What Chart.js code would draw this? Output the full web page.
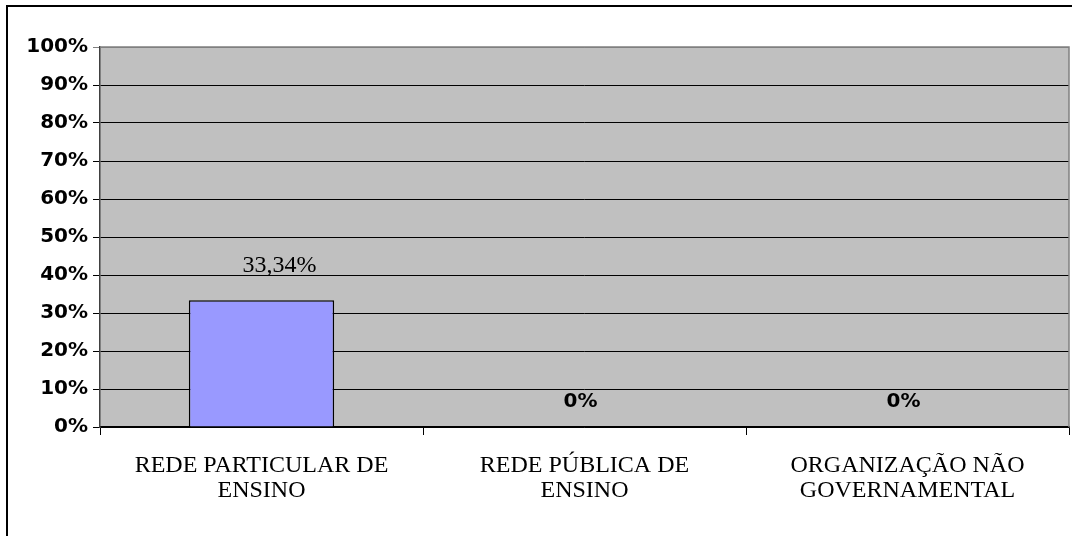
<!DOCTYPE html>
<html>
<head>
<meta charset="utf-8">
<script src="https://cdn.jsdelivr.net/npm/chart.js@4/dist/chart.umd.min.js"></script>
<style>
    html, body { margin: 0; padding: 0; background: #fff; overflow: hidden; }
    #frame { position: absolute; left: 6px; top: 5px; width: 1200px; height: 700px; border: 2px solid #000; }
    #wrap { position: absolute; left: 0; top: 0; width: 1072px; height: 536px; }
</style>
</head>
<body>
<div id="frame"></div>
<div id="wrap"><canvas id="chart"></canvas></div>
<script>
// data
const categories = [
    ["REDE PARTICULAR DE", "ENSINO"],
    ["REDE PÚBLICA DE", "ENSINO"],
    ["ORGANIZAÇÃO NÃO", "GOVERNAMENTAL"]
];
const values = [33.34, 0, 0];
const valueLabels = ["33,34%", "0%", "0%"];
const yMin = 0;
const yMax = 100;
const yStep = 10;

// gray plot background + border on top/right
const plotArea = {
    id: "plotArea",
    beforeDraw(chart) {
        const { ctx, chartArea: a } = chart;
        ctx.save();
        ctx.fillStyle = "#C0C0C0";
        ctx.fillRect(a.left, a.top, a.right - a.left, a.bottom - a.top);
        ctx.restore();
    },
    afterDraw(chart) {
        const { ctx, chartArea: a } = chart;
        ctx.save();
        ctx.strokeStyle = "#808080";
        ctx.lineWidth = 1.5;
        ctx.beginPath();
        ctx.moveTo(a.left, a.top);
        ctx.lineTo(a.right, a.top);
        ctx.lineTo(a.right, a.bottom);
        ctx.stroke();
        ctx.restore();
    }
};

// value labels above the bars
const barLabels = {
    id: "barLabels",
    afterDatasetsDraw(chart) {
        const { ctx } = chart;
        const meta = chart.getDatasetMeta(0);
        ctx.save();
        ctx.fillStyle = "#000";
        ctx.textAlign = "center";
        ctx.textBaseline = "alphabetic";
        meta.data.forEach((bar, i) => {
            if (values[i] > 0) {
                ctx.font = "24px 'Liberation Serif', 'Times New Roman', serif";
                ctx.fillText(valueLabels[i], bar.x + 18, bar.y - 28);
            } else {
                ctx.font = "bold 20px 'DejaVu Sans', sans-serif";
                ctx.fillText(valueLabels[i], bar.x - 4, bar.y - 20);
            }
        });
        ctx.restore();
    }
};

const ctx = document.getElementById("chart").getContext("2d");
new Chart(ctx, {
    type: "bar",
    data: {
        labels: categories,
        datasets: [{
            data: values,
            backgroundColor: "#9999FF",
            borderColor: "#000",
            borderWidth: 1.5,
            categoryPercentage: 1,
            barPercentage: 0.45
        }]
    },
    options: {
        responsive: true,
        maintainAspectRatio: false,
        animation: false,
        layout: { padding: { top: 47, right: 3, left: 0, bottom: 0 } },
        plugins: {
            legend: { display: false },
            tooltip: { enabled: false }
        },
        scales: {
            x: {
                grid: { offset: true, drawOnChartArea: false, drawTicks: true, tickLength: 8, color: "#000" },
                border: { color: "#000", width: 1.5 },
                ticks: {
                    color: "#000",
                    padding: 18,
                    maxRotation: 0,
                    autoSkip: false,
                    font: { family: "'Liberation Serif', 'Times New Roman', serif", size: 24, lineHeight: 1.05 }
                },
                afterFit: scale => { scale.height = 109; }
            },
            y: {
                min: yMin,
                max: yMax,
                grid: {
                    color: c => (c.tick && c.tick.value === yMax ? "#808080" : "#000"),
                    lineWidth: 1,
                    tickLength: 7
                },
                border: { color: "#404040", width: 1.5 },
                ticks: {
                    stepSize: yStep,
                    color: "#000",
                    padding: 5,
                    font: { family: "'DejaVu Sans', sans-serif", size: 20, weight: "bold" },
                    callback: v => v + "%"
                },
                afterFit: scale => { scale.width = 100; }
            }
        }
    },
    plugins: [plotArea, barLabels]
});
</script>
</body>
</html>
